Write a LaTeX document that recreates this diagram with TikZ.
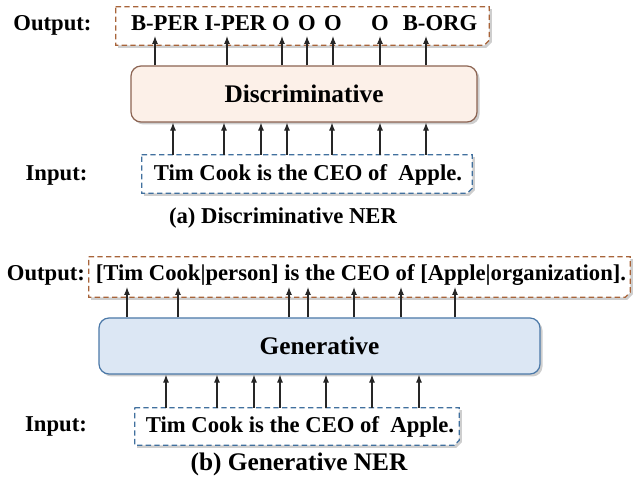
\documentclass[tikz,border=0pt]{standalone}
\usepackage{fontspec}
\setmainfont{Liberation Serif}
\usetikzlibrary{arrows.meta}
\definecolor{brownb}{HTML}{A8643A}
\definecolor{blueb}{HTML}{41709E}
\definecolor{discfill}{HTML}{FCF0E8}
\definecolor{discdraw}{HTML}{8C6452}
\definecolor{genfill}{HTML}{DCE7F4}
\definecolor{gendraw}{HTML}{4C79A8}
\tikzset{
  txt/.style={font=\fontsize{17}{20}\selectfont\bfseries, inner sep=0pt, anchor=base},
  bigtxt/.style={font=\fontsize{19}{22}\selectfont\bfseries},
  arr/.style={-{Latex[length=6pt,width=4.5pt]}, line width=0.8pt, black!85},
  frame/.style={draw=none, inner sep=0pt},
  dashb/.style={line width=1pt, dash pattern=on 4pt off 2.5pt},
  model/.style={rounded corners=7.5pt, line width=0.9pt, inner sep=0pt},
  shad/.style={fill=black!35, opacity=0.55}
}
\newcommand{\cutframe}[2]{%
  \fill[shad] ([shift={(2.5,2.5)}]#1.north west) -- ([shift={(2.5,2.5)}]#1.north east)
    -- ([shift={(2.5,-3)}]#1.south east) -- ([shift={(-3,2.5)}]#1.south east)
    -- ([shift={(2.5,2.5)}]#1.south west) -- cycle;
  \fill[white] (#1.north west) -- (#1.north east) -- ([shift={(0,-5)}]#1.south east)
    -- ([shift={(-5,0)}]#1.south east) -- (#1.south west) -- cycle;
  \draw[dashb, draw=#2] (#1.north west) -- (#1.north east) -- ([shift={(0,-5)}]#1.south east)
    -- ([shift={(-5,0)}]#1.south east) -- (#1.south west) -- cycle;
}
\begin{document}
\begin{tikzpicture}[x=0.75pt, y=-0.75pt]
\useasboundingbox[fill=white] (0,0) rectangle (633,477);

% ---------------- (a) Discriminative ----------------
\node[frame, minimum width=279.75pt, minimum height=28.5pt] (outA) at (302.5,26) {};
\cutframe{outA}{brownb}
\node[frame, minimum width=247.5pt, minimum height=28.5pt] (inA) at (307,174) {};
\cutframe{inA}{blueb}
\fill[shad, rounded corners=7.5pt] (133.5,68.5) rectangle (479.5,124.5);
\node[model, bigtxt, draw=discdraw, fill=discfill, minimum width=259.5pt, minimum height=42pt] (disc) at (304,94) {Discriminative};

\node[txt] (lblOutA) at (52.5,30.5) {Output:};
\node[txt] (lblInA) at (56.5,181) {Input:};
\node[txt] (wa1) at (165,30.5) {B-PER};
\node[txt] (wa2) at (235.5,30.5) {I-PER};
\node[txt] (wa3) at (281,30.5) {O};
\node[txt] (wa4) at (307,30.5) {O};
\node[txt] (wa5) at (333,30.5) {O};
\node[txt] (wa6) at (380,30.5) {O};
\node[txt] (wa7) at (440,30.5) {B-ORG};
\node[txt] (sentA) at (308,180.5) {Tim Cook is the CEO of~~Apple.};
\node[txt] (capA) at (283,223.5) {(a) Discriminative NER};

\foreach \i/\x in {1/155,2/227,3/282,4/307,5/333,6/380,7/426}{
  \coordinate (ta\i) at (\x,36);
  \draw[arr] (disc.north -| ta\i) -- (ta\i);
}
\foreach \i/\x in {1/173,2/224,3/261,4/287,5/332,6/380,7/426}{
  \coordinate (ia\i) at (\x,155);
  \draw[arr] (ia\i) -- (disc.south -| ia\i);
}

% ---------------- (b) Generative ----------------
\node[frame, minimum width=405.75pt, minimum height=30pt] (outB) at (359.5,277) {};
\cutframe{outB}{brownb}
\node[frame, minimum width=243pt, minimum height=27.75pt] (inB) at (297,426.5) {};
\cutframe{inB}{blueb}
\fill[shad, rounded corners=7.5pt] (101.5,320.5) rectangle (542.5,376.5);
\node[model, bigtxt, draw=gendraw, fill=genfill, minimum width=330.75pt, minimum height=42pt] (gen) at (319.5,346) {Generative};

\node[txt] (lblOutB) at (46,281) {Output:};
\node[txt] (lblInB) at (56,432) {Input:};
\node[txt] (sentOutB) at (361,281) {[Tim Cook|person] is the CEO of [Apple|organization].};
\node[txt] (sentB) at (300,433) {Tim Cook is the CEO of~~Apple.};
\node[txt, font=\fontsize{19}{22}\selectfont\bfseries] (capB) at (299,471) {(b) Generative NER};

\foreach \i/\x in {1/127,2/178,3/289,4/308,5/354,6/401,7/455}{
  \coordinate (tb\i) at (\x,287);
  \draw[arr] (gen.north -| tb\i) -- (tb\i);
}
\foreach \i/\x in {1/166,2/217,3/254,4/280,5/326,6/372,7/419}{
  \coordinate (ib\i) at (\x,408);
  \draw[arr] (ib\i) -- (gen.south -| ib\i);
}
\end{tikzpicture}
\end{document}
